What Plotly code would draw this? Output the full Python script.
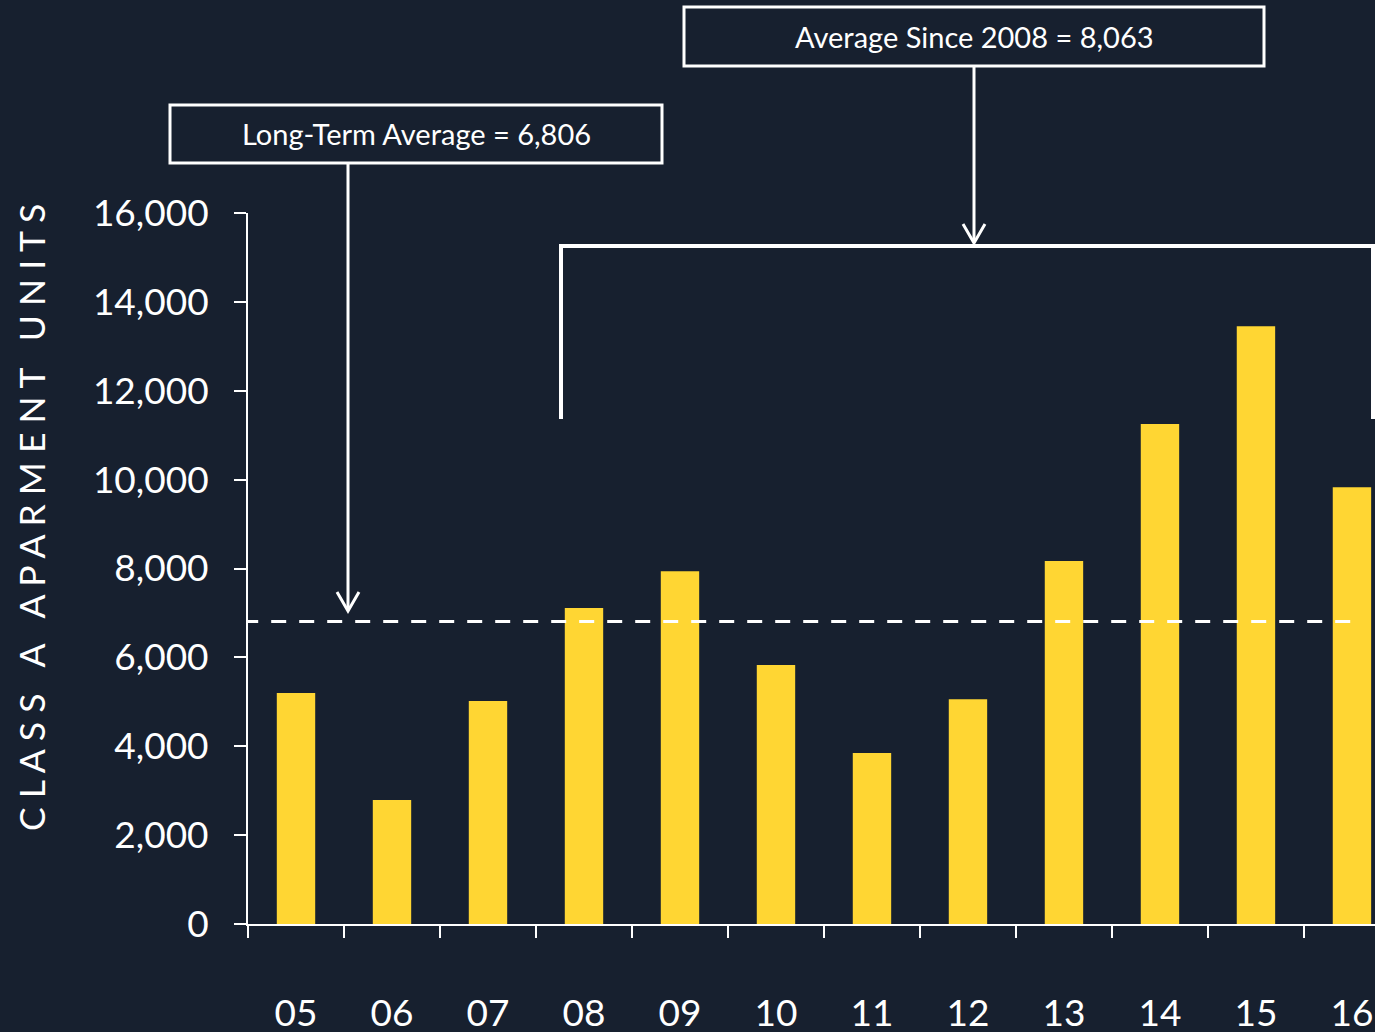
import plotly.graph_objects as go

# Class A apartment completions by year
years = ["05", "06", "07", "08", "09", "10", "11", "12", "13", "14", "15", "16"]
units = [5200, 2790, 5020, 7110, 7940, 5830, 3850, 5060, 8170, 11250, 13450, 9830]

long_term_avg = 6806
avg_since_2008 = 8063
y_ticks = [0, 2000, 4000, 6000, 8000, 10000, 12000, 14000, 16000]

BG = "#17202F"
BAR = "#FFD633"
WHITE = "#FFFFFF"
FONT = "Lato, 'Open Sans', sans-serif"

W, H = 1375, 1032
ML, MR, MT, MB = 248, 0, 213, 108
PW, PH = W - ML - MR, H - MT - MB


def px(x):
    """Horizontal pixel position -> paper coordinate."""
    return (x - ML) / PW


def py(y):
    """Vertical pixel position -> paper coordinate."""
    return (H - MB - y) / PH


fig = go.Figure()
fig.add_trace(go.Bar(
    x=years, y=units, marker=dict(color=BAR, line=dict(width=0)),
    width=0.4, hoverinfo="skip",
))

shapes = []
# dashed long-term average line
shapes.append(dict(type="line", xref="x", yref="y", x0=-0.55, x1=11.03,
                   y0=long_term_avg, y1=long_term_avg,
                   line=dict(color=WHITE, width=3, dash="15px,13px")))

# bracket spanning 2008 onwards
shapes.append(dict(type="path", xref="paper", yref="paper",
                   path=f"M {px(561)},{py(419)} L {px(561)},{py(246)} L {px(1400)},{py(246)}",
                   line=dict(color=WHITE, width=4)))
shapes.append(dict(type="line", xref="paper", yref="paper",
                   x0=px(1373), x1=px(1373), y0=py(246), y1=py(419),
                   line=dict(color=WHITE, width=4)))

# label boxes with arrows
boxes = [
    (170, 662, 105, 163, 348, 611, f"Long-Term Average = {long_term_avg:,}"),
    (684, 1264, 7, 66, 974, 243, f"Average Since 2008 = {avg_since_2008:,}"),
]
annotations = []
for x0, x1, y0, y1, ax, tip, label in boxes:
    shapes.append(dict(type="rect", xref="paper", yref="paper",
                       x0=px(x0), x1=px(x1), y0=py(y1), y1=py(y0),
                       line=dict(color=WHITE, width=3), fillcolor=BG))
    shapes.append(dict(type="line", xref="paper", yref="paper",
                       x0=px(ax), x1=px(ax), y0=py(y1 + 1), y1=py(tip - 1),
                       line=dict(color=WHITE, width=3)))
    shapes.append(dict(type="path", xref="paper", yref="paper",
                       path=f"M {px(ax - 11)},{py(tip - 19)} L {px(ax)},{py(tip)} L {px(ax + 11)},{py(tip - 19)}",
                       line=dict(color=WHITE, width=3)))
    annotations.append(dict(xref="paper", yref="paper",
                            x=px((x0 + x1) / 2), y=py((y0 + y1) / 2),
                            text=label, showarrow=False,
                            xanchor="center", yanchor="middle",
                            font=dict(family=FONT, size=29, color=WHITE)))

# vertical axis title with wide letter spacing
annotations.append(dict(xref="paper", yref="paper", x=px(31), y=py(518),
                        text="C L A S S   A   A P A R M E N T   U N I T S",
                        textangle=-90, showarrow=False,
                        xanchor="center", yanchor="middle",
                        font=dict(family=FONT, size=35.5, color=WHITE)))

fig.update_layout(
    width=W, height=H,
    margin=dict(l=ML, r=MR, t=MT, b=MB, pad=0),
    paper_bgcolor=BG, plot_bgcolor=BG,
    showlegend=False,
    bargap=0.6,
    shapes=shapes,
    annotations=annotations,
    font=dict(family=FONT, color=WHITE),
)
fig.update_xaxes(
    type="category", range=[-0.5, 11.24], showgrid=False, zeroline=False,
    showline=True, linecolor=WHITE, linewidth=2,
    ticks="outside", tickson="boundaries", ticklen=12, tickwidth=2, tickcolor=WHITE,
    tickfont=dict(family=FONT, size=37, color=WHITE),
    ticklabelstandoff=56, automargin=False, fixedrange=True,
)
fig.update_yaxes(
    range=[0, 16000], tickvals=y_ticks, tickformat=",d",
    showgrid=False, zeroline=False,
    showline=True, linecolor=WHITE, linewidth=2,
    ticks="outside", ticklen=12, tickwidth=2, tickcolor=WHITE,
    tickfont=dict(family=FONT, size=37, color=WHITE),
    ticklabelstandoff=18, automargin=False, fixedrange=True,
)

fig.write_html("out.html", config={"displayModeBar": False})
